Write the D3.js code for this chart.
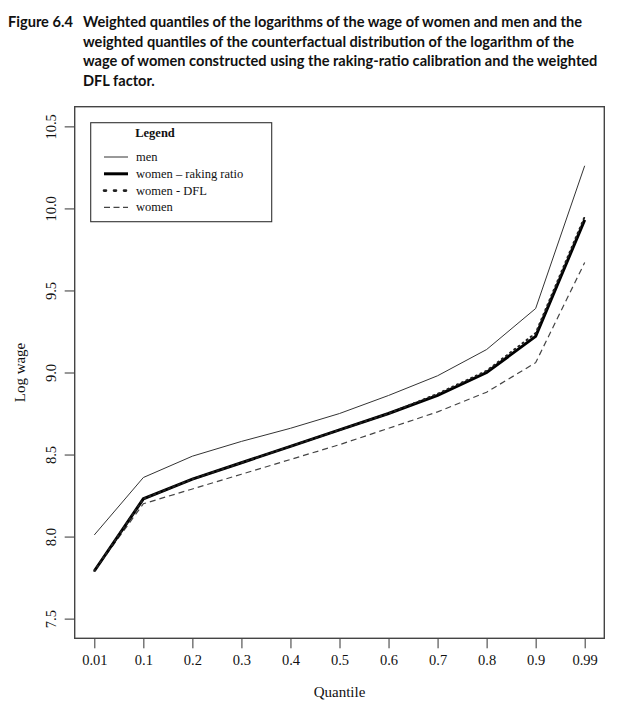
<!DOCTYPE html>
<html><head><meta charset="utf-8">
<script src="https://cdn.jsdelivr.net/npm/d3@7"></script>
<style>body{margin:0;background:#fff}svg{display:block}</style>
</head><body>
<svg id="c" width="617" height="717"></svg>
<script>
const quantiles = ["0.01","0.1","0.2","0.3","0.4","0.5","0.6","0.7","0.8","0.9","0.99"];
const men        = [8.01, 8.36, 8.49, 8.58, 8.66, 8.75, 8.86, 8.98, 9.14, 9.39, 10.26];
const womenRaking= [7.79, 8.23, 8.35, 8.45, 8.55, 8.65, 8.75, 8.86, 9.00, 9.22, 9.93];
const womenDFL   = [7.79, 8.23, 8.35, 8.45, 8.55, 8.65, 8.75, 8.87, 9.01, 9.24, 9.95];
const women      = [7.79, 8.20, 8.29, 8.38, 8.47, 8.56, 8.66, 8.76, 8.88, 9.06, 9.67];
const yTicks = [7.5, 8.0, 8.5, 9.0, 9.5, 10.0, 10.5];
const titleLines = [
  "Weighted quantiles of the logarithms of the wage of women and men and the",
  "weighted quantiles of the counterfactual distribution of the logarithm of the",
  "wage of women constructed using the raking-ratio calibration and the weighted",
  "DFL factor."
];
const legendItems = ["men", "women \u2013 raking ratio", "women - DFL", "women"];

const svg = d3.select("#c");
const L = 74.7, R = 604.3, T = 106.7, B = 638.3;
const x = d3.scalePoint().domain(quantiles).range([L, R]).padding(0.4);
const y = d3.scaleLinear().domain([7.38, 10.62]).range([B, T]);

// title
const tg = svg.append("g").attr("font-family", "Lato, 'Open Sans', sans-serif")
  .attr("font-weight", "bold").attr("font-size", 14.6).attr("fill", "#111");
tg.append("text").attr("x", 8).attr("y", 27).text("Figure 6.4");
titleLines.forEach((t, i) => {
  tg.append("text").attr("x", 83).attr("y", 27 + i * 19.7).text(t);
});

// axes
const serif = "'Liberation Serif', 'DejaVu Serif', serif";
const xAxis = svg.append("g").attr("transform", `translate(0,${B})`)
  .call(d3.axisBottom(x).tickSize(10).tickPadding(6));
xAxis.select(".domain").remove();
xAxis.selectAll("line").attr("stroke", "#333");
xAxis.selectAll("text").attr("font-family", serif).attr("font-size", 14.5).attr("fill", "#111");

const yAxis = svg.append("g").attr("transform", `translate(${L},0)`)
  .call(d3.axisLeft(y).tickValues(yTicks).tickFormat(d3.format(".1f")).tickSize(10));
yAxis.select(".domain").remove();
yAxis.selectAll("line").attr("stroke", "#333");
yAxis.selectAll(".tick text").attr("font-family", serif).attr("font-size", 14.5).attr("fill", "#111")
  .attr("x", 0).attr("y", 0).attr("dy", "0.35em").attr("text-anchor", "middle")
  .attr("transform", "translate(-24,0) rotate(-90)");

// box
svg.append("rect").attr("x", L).attr("y", T).attr("width", R - L).attr("height", B - T)
  .attr("fill", "none").attr("stroke", "#444").attr("stroke-width", 1.4);

// axis titles
svg.append("text").attr("x", (L + R) / 2).attr("y", 697).attr("text-anchor", "middle")
  .attr("font-family", serif).attr("font-size", 15).attr("fill", "#111").text("Quantile");
svg.append("text").attr("transform", `translate(25,${(T + B) / 2}) rotate(-90)`)
  .attr("text-anchor", "middle").attr("font-family", serif).attr("font-size", 15)
  .attr("fill", "#111").text("Log wage");

// lines
const line = d3.line().x((d, i) => x(quantiles[i])).y(d => y(d));
const styles = [
  {data: men, stroke: "#333", width: 1, dash: null, legDash: null, legWidth: 1},
  {data: womenRaking, stroke: "#000", width: 3, dash: null, legDash: null, legWidth: 3},
  {data: womenDFL, stroke: "#222", width: 2, dash: "1.2,4", legDash: "2,8", legWidth: 2.6},
  {data: women, stroke: "#444", width: 1.2, dash: "6,4", legDash: "6,3.5", legWidth: 1.2}
];
const drawOrder = [0, 3, 1, 2];
drawOrder.forEach(k => {
  const s = styles[k];
  svg.append("path").attr("d", line(s.data)).attr("fill", "none")
    .attr("stroke", s.stroke).attr("stroke-width", s.width)
    .attr("stroke-dasharray", s.dash).attr("stroke-linecap", k === 2 ? "round" : "butt");
});

// legend
const lg = svg.append("g");
lg.append("rect").attr("x", 90.7).attr("y", 122.7).attr("width", 181).attr("height", 99)
  .attr("fill", "#fff").attr("stroke", "#333").attr("stroke-width", 1.1);
lg.append("text").attr("x", 155).attr("y", 137).attr("text-anchor", "middle")
  .attr("font-family", serif).attr("font-weight", "bold").attr("font-size", 12.5).attr("fill", "#111").text("Legend");
legendItems.forEach((t, i) => {
  const yy = 157 + i * 16.8;
  const s = styles[i];
  lg.append("line").attr("x1", 104).attr("x2", 128).attr("y1", yy).attr("y2", yy)
    .attr("stroke", s.stroke).attr("stroke-width", s.legWidth).attr("stroke-dasharray", s.legDash)
    .attr("stroke-linecap", i === 2 ? "round" : "butt");
  lg.append("text").attr("x", 136).attr("y", yy + 4).attr("font-family", serif)
    .attr("font-size", 12.5).attr("fill", "#111").text(t);
});
</script>
</body></html>
